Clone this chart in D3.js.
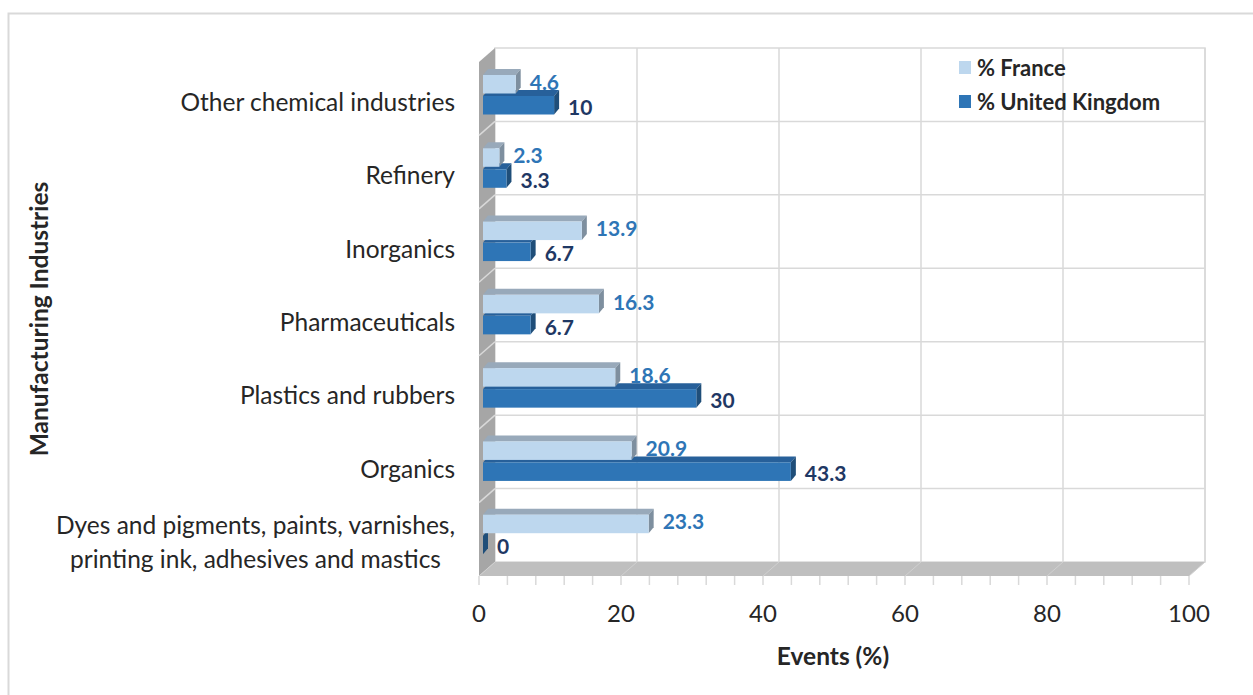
<!DOCTYPE html>
<html>
<head>
<meta charset="utf-8">
<script src="https://cdn.jsdelivr.net/npm/d3@7"></script>
<style>
  body { margin: 0; background: #fff; }
  text { font-family: Lato, "Open Sans", sans-serif; }
</style>
</head>
<body>
<svg id="chart"></svg>
<script>
const W = 1253, H = 695;

// data
const categories = [
  "Other chemical industries",
  "Refinery",
  "Inorganics",
  "Pharmaceuticals",
  "Plastics and rubbers",
  "Organics",
  "Dyes and pigments, paints, varnishes,|printing ink, adhesives and mastics"
];
const seriesNames = ["% France", "% United Kingdom"];
const france = [4.6, 2.3, 13.9, 16.3, 18.6, 20.9, 23.3];
const uk = [10, 3.3, 6.7, 6.7, 30, 43.3, 0];
const xTicks = [0, 20, 40, 60, 80, 100];

// 3d box geometry
const DX = 16, DY = 14;          // wall depth
const BDX = 5, BDY = 6;          // bar depth
const WALL_TOP = 48, WALL_BOT = 562;

const svg = d3.select("#chart").attr("width", W).attr("height", H);

// chart frame
svg.append("rect").attr("x", 8.5).attr("y", 13.5)
  .attr("width", 1300).attr("height", 700)
  .attr("fill", "none").attr("stroke", "#d9d9d9").attr("stroke-width", 2);

const xBack = d3.scaleLinear().domain([0, 100]).range([495, 1205]);
const xFront = d3.scaleLinear().domain([0, 100]).range([479, 1189]);
const xBar = d3.scaleLinear().domain([0, 100]).range([483, 1194]);
const yBack = d3.scaleBand().domain(categories).range([WALL_TOP, WALL_BOT]);
const yCat = d3.scaleBand().domain(categories).range([65, 578]);

const grid = "#d9d9d9";

// back wall
svg.append("rect").attr("x", xBack(0)).attr("y", WALL_TOP)
  .attr("width", xBack(100) - xBack(0)).attr("height", WALL_BOT - WALL_TOP)
  .attr("fill", "#fff").attr("stroke", grid).attr("stroke-width", 1.5);

svg.append("g").selectAll("line").data(xTicks.slice(1))
  .join("line")
  .attr("x1", d => xBack(d)).attr("x2", d => xBack(d))
  .attr("y1", WALL_TOP).attr("y2", WALL_BOT)
  .attr("stroke", grid).attr("stroke-width", 1.5);

svg.append("g").selectAll("line").data(categories.slice(1))
  .join("line")
  .attr("x1", xBack(0)).attr("x2", xBack(100))
  .attr("y1", d => yBack(d)).attr("y2", d => yBack(d))
  .attr("stroke", grid).attr("stroke-width", 1.5);

// left wall
const wallPts = [[xFront(0), WALL_TOP + DY], [xBack(0), WALL_TOP], [xBack(0), WALL_BOT], [xFront(0), WALL_BOT + DY]];
svg.append("polygon").attr("points", wallPts.join(" ")).attr("fill", "#a6a6a6");
svg.append("g").selectAll("line").data(categories.slice(1))
  .join("line")
  .attr("x1", xBack(0)).attr("y1", d => yBack(d))
  .attr("x2", xFront(0)).attr("y2", d => yBack(d) + DY)
  .attr("stroke", "#d9d9d9").attr("stroke-width", 1.5);

// floor
const floorPts = [[xFront(0), WALL_BOT + DY], [xFront(100), WALL_BOT + DY], [xBack(100), WALL_BOT], [xBack(0), WALL_BOT]];
svg.append("polygon").attr("points", floorPts.join(" ")).attr("fill", "#bfbfbf");
svg.append("g").selectAll("line").data(xTicks)
  .join("line")
  .attr("x1", d => xFront(d)).attr("y1", WALL_BOT + DY)
  .attr("x2", d => xBack(d)).attr("y2", WALL_BOT)
  .attr("stroke", "#d0d0d0").attr("stroke-width", 1);

// minor ticks below floor
svg.append("g").selectAll("line").data(d3.range(0, 101, 4))
  .join("line")
  .attr("x1", d => xFront(d)).attr("x2", d => xFront(d))
  .attr("y1", WALL_BOT + DY).attr("y2", WALL_BOT + DY + 9)
  .attr("stroke", "#d9d9d9").attr("stroke-width", 1.5);

// tick labels
svg.append("g").selectAll("text").data(xTicks)
  .join("text")
  .attr("x", d => xFront(d)).attr("y", 612)
  .attr("text-anchor", "middle").attr("dominant-baseline", "central")
  .attr("font-size", 24).attr("fill", "#262626")
  .text(d => d);

// bars
const styles = [
  { face: "#bdd7ee", top: "#98a9ba", side: "#7e8f9f", label: "#2e75b6", off: 10 },
  { face: "#2e75b6", top: "#27609a", side: "#1f4e79", label: "#1f3864", off: 31 }
];
const BAR_H = 18.5;

function drawBar(g, v, y0, st) {
  const x0 = xBar(0), x1 = xBar(v);
  g.append("polygon")
    .attr("points", [[x0, y0], [x0 + BDX, y0 - BDY], [x1 + BDX, y0 - BDY], [x1, y0]].join(" "))
    .attr("fill", st.top);
  g.append("polygon")
    .attr("points", [[x1, y0], [x1 + BDX, y0 - BDY], [x1 + BDX, y0 + BAR_H - BDY], [x1, y0 + BAR_H]].join(" "))
    .attr("fill", st.side);
  g.append("rect").attr("x", x0).attr("y", y0)
    .attr("width", x1 - x0).attr("height", BAR_H).attr("fill", st.face);
}

const barsG = svg.append("g");
categories.forEach((c, i) => {
  const g = barsG.append("g");
  // UK first so the France bar sits over its top face
  drawBar(g, uk[i], yCat(c) + styles[1].off, styles[1]);
  drawBar(g, france[i], yCat(c) + styles[0].off, styles[0]);
});

// data labels
[france, uk].forEach((vals, s) => {
  svg.append("g").selectAll("text").data(vals)
    .join("text")
    .attr("x", d => xBar(d) + BDX + 9)
    .attr("y", (d, i) => yCat(categories[i]) + styles[s].off + BAR_H / 2 + (s === 0 ? -3 : 1))
    .attr("dominant-baseline", "central")
    .attr("font-size", 21).attr("font-weight", 700)
    .attr("fill", styles[s].label)
    .text(d => d);
});

// category labels
const catG = svg.append("g");
categories.forEach(c => {
  const lines = c.split("|");
  const t = catG.append("text")
    .attr("font-size", 24.5).attr("fill", "#262626")
    .attr("dominant-baseline", "central");
  const cy = yCat(c) + yCat.bandwidth() / 2;
  if (lines.length === 1) {
    t.attr("x", 455).attr("y", cy).attr("text-anchor", "end").text(c);
  } else {
    const lh = 34;
    lines.forEach((ln, k) => {
      t.append("tspan").attr("x", 0).attr("y", cy + (k - (lines.length - 1) / 2) * lh).text(ln);
    });
    const w = d3.max(t.selectAll("tspan").nodes(), n => n.getComputedTextLength());
    t.attr("text-anchor", "middle");
    t.selectAll("tspan").attr("x", 455 - w / 2);
  }
});

// axis titles
svg.append("text").attr("x", 833).attr("y", 655)
  .attr("text-anchor", "middle").attr("dominant-baseline", "central")
  .attr("font-size", 24.5).attr("font-weight", 700).attr("fill", "#262626")
  .text("Events (%)");
svg.append("text")
  .attr("transform", "translate(38,319) rotate(-90)")
  .attr("text-anchor", "middle").attr("dominant-baseline", "central")
  .attr("font-size", 24.5).attr("font-weight", 700).attr("fill", "#262626")
  .text("Manufacturing Industries");

// legend
const legend = svg.append("g").attr("transform", "translate(959,61)");
seriesNames.forEach((name, i) => {
  legend.append("rect").attr("x", 0).attr("y", i * 34)
    .attr("width", 12).attr("height", 13).attr("fill", styles[i].face);
  legend.append("text").attr("x", 18).attr("y", i * 34 + 6.5)
    .attr("dominant-baseline", "central")
    .attr("font-size", 22).attr("font-weight", 700).attr("fill", "#262626")
    .text(name);
});
</script>
</body>
</html>
